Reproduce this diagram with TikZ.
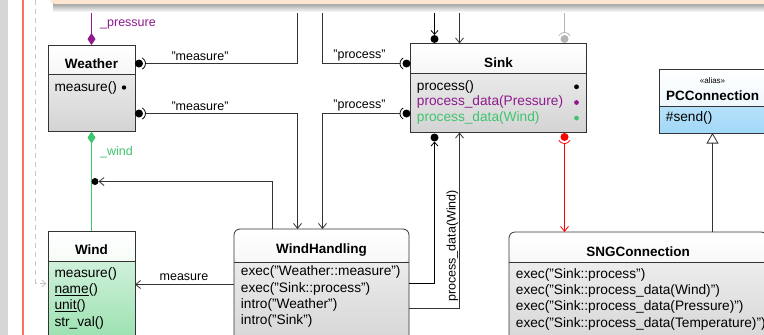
\documentclass[tikz,border=0pt]{standalone}
\usepackage{fontspec}
\setmainfont{Liberation Sans}
\usetikzlibrary{arrows.meta}
\definecolor{linec}{HTML}{333333}
\definecolor{peach}{HTML}{FCE6CF}
\definecolor{umlpurple}{HTML}{8E1A8E}
\definecolor{umlgreen}{HTML}{3FC46F}
\definecolor{lgreen}{HTML}{3FC46F}
\definecolor{redline}{HTML}{FF6B6B}
\definecolor{stripg}{HTML}{D6D6D6}
\definecolor{hdrgray}{HTML}{E4E4E4}
\definecolor{bodytop}{HTML}{F4F4F4}
\definecolor{bodybot}{HTML}{D4D4D4}
\definecolor{ghdr}{HTML}{DDF4E4}
\definecolor{gtop}{HTML}{E4F7EA}
\definecolor{gbot}{HTML}{98E0AE}
\definecolor{bhdr}{HTML}{E2F3FC}
\definecolor{btop}{HTML}{D2EDFC}
\definecolor{bbot}{HTML}{A2D8F8}
\definecolor{portgray}{HTML}{B4B4B4}
\tikzset{
  ln/.style={draw=linec, line width=0.8pt},
  barb/.style={-{Straight Barb[length=5pt,width=8pt]}},
  umlbox/.style n args={4}{draw=linec, line width=0.8pt, rectangle, inner sep=0pt, outer sep=0pt,
    anchor=north west, top color=#3, bottom color=#4,
    path picture={\shade[top color=white, bottom color=#2] (path picture bounding box.north west) rectangle ([yshift=-#1]path picture bounding box.north east);
      \draw[linec, line width=0.8pt] ([yshift=-#1]path picture bounding box.north west) -- ([yshift=-#1]path picture bounding box.north east);}},
  ttl/.style={font=\fontsize{13.5}{16}\selectfont\bfseries, anchor=base, inner sep=0pt},
  mtx/.style={font=\fontsize{13.7}{16}\selectfont, anchor=base west, inner sep=0pt},
  lbl/.style={font=\fontsize{12.5}{15}\selectfont, anchor=base, inner sep=0pt},
}
\begin{document}
\begin{tikzpicture}[x=1pt,y=1pt]
\useasboundingbox (0,0) rectangle (764,-335);
\clip (0,0) rectangle (764,-335);
\fill[white] (0,0) rectangle (764,-335);
% left decorations
\fill[stripg] (0,0) rectangle (8,-335);
\draw[redline, line width=1.3pt] (23,0) -- (23,-335);
\coordinate (dtop) at (35.5,0);
\coordinate (dend) at (46.5,-283.5);
\draw[gray!45, line width=0.8pt, dash pattern=on 5pt off 4pt, -{Straight Barb[length=4pt,width=7pt]}] (dtop) |- (dend);
% top band
\shade[top color=gray!75, bottom color=white] (53,-3.5) rectangle (780,-12);
\fill[peach, rounded corners=5pt] (50,10) rectangle (780,-4);

% boxes
\node[umlbox={29.5}{hdrgray}{bodytop}{bodybot}, minimum width=87pt, minimum height=86.5pt] (weather) at (48,-45) {};
\node[umlbox={30}{hdrgray}{bodytop}{bodybot}, minimum width=176pt, minimum height=89pt] (sink) at (410.5,-43.5) {};
\node[umlbox={37.5}{bhdr}{btop}{bbot}, minimum width=107pt, minimum height=64pt] (pcc) at (659,-69) {};
\node[umlbox={30}{ghdr}{gtop}{gbot}, minimum width=87pt, minimum height=112pt] (wind) at (48,-231) {};
\node[umlbox={33}{hdrgray}{bodytop}{bodybot}, rounded corners=6pt, minimum width=175pt, minimum height=120pt] (wh) at (234,-229) {};
\node[umlbox={30}{hdrgray}{bodytop}{bodybot}, rounded corners=6pt, minimum width=258pt, minimum height=120pt] (sng) at (509,-232) {};

% titles
\node[ttl] (weatherT) at (91.5,-68) {Weather};
\node[ttl] (sinkT) at (498.5,-67) {Sink};
\node[font=\fontsize{8}{9}\selectfont, anchor=base, inner sep=0pt] (pccS) at (712.5,-83) {«alias»};
\node[ttl] (pccT) at (712.5,-100.5) {PCConnection};
\node[ttl] (windT) at (91.5,-254) {Wind};
\node[ttl] (whT) at (321.5,-253) {WindHandling};
\node[ttl] (sngT) at (638,-256) {SNGConnection};

% methods
\node[mtx] (weatherM1) at (54.3,-91) {measure()};
\fill[black] (124,-87.5) circle (2.2);
\node[mtx] (sinkM1) at (416.7,-90) {process()};
\node[mtx, text=umlpurple] (sinkM2) at (416.7,-105.7) {process\_data(Pressure)};
\node[mtx, text=umlgreen] (sinkM3) at (416.7,-121.3) {process\_data(Wind)};
\fill[black] (576.5,-86.8) circle (2.4);
\fill[umlpurple] (576.5,-102.5) circle (2.4);
\fill[umlgreen] (576.5,-118.1) circle (2.4);
\node[mtx] (pccM1) at (665.7,-121.5) {\#send()};
\node[mtx] (windM1) at (54.3,-277.3) {measure()};
\node[mtx] (windM2) at (54.3,-293.5) {\underline{name}()};
\node[mtx] (windM3) at (54.3,-309.8) {\underline{unit}()};
\node[mtx] (windM4) at (54.3,-326) {str\_val()};
\node[mtx] (whM1) at (240.7,-275.6) {exec("Weather::measure")};
\node[mtx] (whM2) at (240.7,-292) {exec("Sink::process")};
\node[mtx] (whM3) at (240.7,-308.2) {intro("Weather")};
\node[mtx] (whM4) at (240.7,-324.4) {intro("Sink")};
\node[mtx] (sngM1) at (515.7,-278) {exec("Sink::process")};
\node[mtx] (sngM2) at (515.7,-294.4) {exec("Sink::process\_data(Wind)")};
\node[mtx] (sngM3) at (515.7,-310.7) {exec("Sink::process\_data(Pressure)")};
\node[mtx] (sngM4) at (515.7,-327) {exec("Sink::process\_data(Temperature)")};

% port coordinates
\coordinate (wpA) at (139,-63.5);
\coordinate (wpB) at (139,-113.5);
\coordinate (spA) at (406.5,-63.5);
\coordinate (spB) at (406.5,-113.5);
\coordinate (topA) at (297.5,-13);
\coordinate (topB) at (322.5,-13);
\coordinate (jx) at (272.5,-181.5);
\coordinate (jn) at (95,-181.5);

% purple and green compositions
\coordinate (pt) at (91.5,-13);
\draw[umlpurple, line width=1pt, -{Diamond[length=12pt,width=8pt]}] (pt) -- (weather.north);
\draw[lgreen, line width=1.1pt] (wind.north) -- ([yshift=-12pt]weather.south);
\draw[lgreen, line width=1pt, -{Diamond[length=12pt,width=8pt,fill=umlgreen]}] ([yshift=-14pt]weather.south) -- (weather.south);
\node[lbl, anchor=base west, text=umlpurple] (lpres) at (100,-26.5) {\_pressure};
\node[lbl, anchor=base west, text=umlgreen] (lwind) at (100,-155) {\_wind};

% Weather ports
\foreach \p in {wpA,wpB}{
  \fill[black] (\p) circle (4);
  \draw[black, line width=0.8pt] (\p) ++(-60:6.5) arc[start angle=-60, end angle=60, radius=6.5];
}
% Sink left ports
\foreach \p in {spA,spB}{
  \fill[black] (\p) circle (4);
  \draw[black, line width=0.8pt] (\p) ++(120:6.5) arc[start angle=120, end angle=240, radius=6.5];
}
\draw[ln] ([xshift=6.5pt]wpA) -| (topA);
\draw[ln] ([xshift=-6.5pt]spA) -| (topB);
\draw[ln, barb] ([xshift=6.5pt]wpB) -| (topA |- wh.north);
\draw[ln, barb] ([xshift=-6.5pt]spB) -| (topB |- wh.north);
\node[lbl] (lm1) at (200,-60) {"measure"};
\node[lbl] (lm2) at (200,-110) {"measure"};
\node[lbl] (lp1) at (359.5,-58) {"process"};
\node[lbl] (lp2) at (359.5,-108) {"process"};

% junction on _wind
\fill[black] (jn) circle (3.5);
\draw[ln, barb] (jx |- wh.north) -- (jx) -- ([xshift=3.5pt]jn);

% Sink top
\coordinate (sA) at (434.5,-13);
\coordinate (sB) at (459.5,-13);
\coordinate (sC) at (564.5,-13);
\fill[black] (434.5,-39) circle (4);
\draw[line width=0.8pt, black, -{Straight Barb[length=4pt,width=7pt]}] (sA) -- (434.5,-35);
\draw[ln, barb] (sB) -- (sB |- sink.north);
\fill[portgray] (564.5,-39) circle (4);
\draw[portgray, line width=0.8pt] (564.5,-39) ++(30:6.5) arc[start angle=30, end angle=150, radius=6.5];
\draw[portgray, line width=0.8pt] (sC) -- (564.5,-32.5);

% Sink bottom
\coordinate (whA) at (409,-283.5);
\coordinate (whB) at (409,-308.5);
\fill[black] (434.5,-137.5) circle (4);
\draw[line width=0.8pt, black, -{Straight Barb[length=4pt,width=7pt]}] (whA) -| (434.5,-141.5);
\draw[ln, barb] (whB) -| (sB |- sink.south);
\node[lbl, rotate=90] (lpdw) at (455.5,-246) {process\_data(Wind)};
\fill[red] (564.5,-137) circle (4);
\draw[red, line width=0.8pt] (564.5,-137) ++(210:6.5) arc[start angle=210, end angle=330, radius=6.5];
\draw[red, line width=0.8pt, barb] (564.5,-143.5) -- (sC |- sng.north);

% measure to Wind
\coordinate (mw) at (234,-284.5);
\draw[ln, barb] (mw) -- (mw -| wind.east);
\node[lbl] (lmeas) at (184,-280.5) {measure};

% inheritance
\draw[ln, -{Triangle[open, length=10.5pt, width=12pt, fill=white]}] (712.5,-232) -- (712.5,-133);
\end{tikzpicture}
\end{document}
